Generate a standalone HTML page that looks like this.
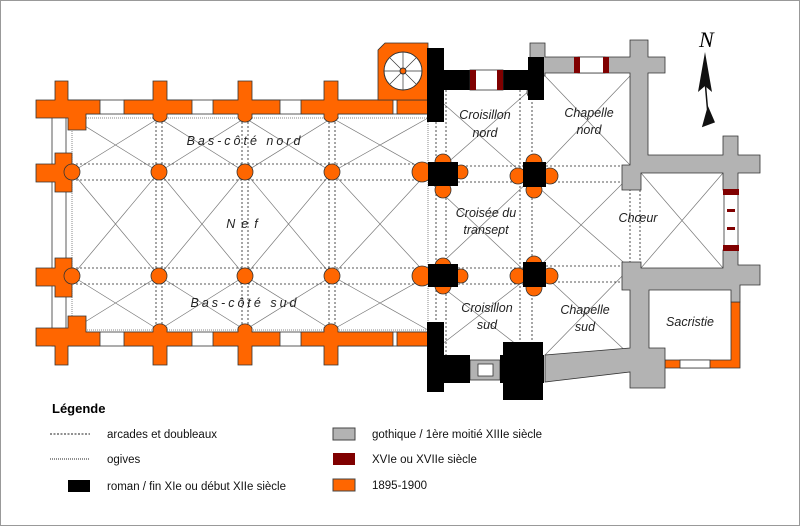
<!DOCTYPE html>
<html><head><meta charset="utf-8"><style>
html,body{margin:0;padding:0;background:#fff}
svg{display:block}
text{font-family:"Liberation Sans","DejaVu Sans",sans-serif}
.lab{font-style:italic;font-size:12.5px;fill:#222;text-anchor:middle}
.leg{font-size:11.5px;fill:#111}
</style></head><body>
<svg width="800" height="526" viewBox="0 0 800 526" xmlns="http://www.w3.org/2000/svg">
<rect x="0.5" y="0.5" width="799" height="525" fill="#fff" stroke="#999"/>
<rect x="72" y="118" width="356" height="212" fill="#fff" stroke="#888" stroke-dasharray="1,1"/>
<g stroke="#777" stroke-width="0.7" fill="none">
<path d="M72,118 L159,172 L245,118 L332,172 L428,118 M72,172 L159,118 L245,172 L332,118 L428,172"/>
<path d="M72,172 L159,276 L245,172 L332,276 L428,172 M72,276 L159,172 L245,276 L332,172 L428,276"/>
<path d="M72,276 L159,330 L245,276 L332,330 L428,276 M72,330 L159,276 L245,330 L332,276 L428,330"/>
<path d="M428,90 L530,180 M530,90 L428,180 M428,180 L530,276 M530,180 L428,276 M428,276 L530,355 M530,276 L428,355"/>
<path d="M545,76 L630,165 M630,76 L545,165 M530,180 L630,268 M630,176 L530,276 M545,276 L630,355 M630,268 L545,355 M641,173 L723,268 M723,173 L641,268"/>
</g>
<g stroke="#222" stroke-width="0.8" stroke-dasharray="2,2" fill="none">
<path d="M72,164 H428 M72,180 H428 M72,268 H428 M72,284 H428"/>
<path d="M156,118 V330 M162,118 V330 M242,118 V330 M248,118 V330 M329,118 V330 M335,118 V330"/>
<path d="M436,90 V355 M446,90 V355 M520,90 V355 M532,90 V355 M458,166 H523 M458,182 H523 M458,268 H523 M458,284 H523"/>
<path d="M546,166 H635 M546,182 H635 M546,266 H635 M546,282 H635 M630,165 V280 M640,170 V272"/>
</g>
<g fill="#fff" stroke="#333" stroke-width="0.8">
<rect x="60" y="100" width="368" height="14"/><rect x="60" y="332" width="368" height="14"/>
<rect x="52" y="110" width="14" height="236"/>
</g>
<g fill="#f60" stroke="#333" stroke-width="0.8">
<path d="M55,81 H68 V100 H100 V114 H86 V130 H68 V118 H36 V100 H55Z"/>
<path d="M153,81 H167 V100 H192 V114 H167 V118 A8,8 0 0 1 153,118 V114 H124 V100 H153Z"/>
<path d="M238,81 H252 V100 H280 V114 H252 V118 A8,8 0 0 1 238,118 V114 H213 V100 H238Z"/>
<path d="M324,81 H338 V100 H393 V114 H338 V118 A8,8 0 0 1 324,118 V114 H301 V100 H324Z"/>
<rect x="397" y="100" width="31" height="14"/>
<path d="M55,365 H68 V346 H100 V332 H86 V316 H68 V328 H36 V346 H55Z"/>
<path d="M153,365 H167 V346 H192 V332 H167 V328 A8,8 0 0 0 153,328 V332 H124 V346 H153Z"/>
<path d="M238,365 H252 V346 H280 V332 H252 V328 A8,8 0 0 0 238,328 V332 H213 V346 H238Z"/>
<path d="M324,365 H338 V346 H393 V332 H338 V328 A8,8 0 0 0 324,328 V332 H301 V346 H324Z"/>
<rect x="397" y="332" width="31" height="14"/>
<path d="M36,164 H55 V153 H72 V192 H55 V182 H36Z"/>
<path d="M36,268 H55 V258 H72 V297 H55 V286 H36Z"/>
<circle cx="72" cy="172" r="8"/><circle cx="72" cy="276" r="8"/>
<circle cx="159" cy="172" r="8"/><circle cx="245" cy="172" r="8"/><circle cx="332" cy="172" r="8"/>
<circle cx="159" cy="276" r="8"/><circle cx="245" cy="276" r="8"/><circle cx="332" cy="276" r="8"/>
<path d="M378,50 L385,43 H428 V100 H378Z"/>
<circle cx="422" cy="172" r="10"/><circle cx="443" cy="162" r="8"/><circle cx="443" cy="190" r="8"/><circle cx="461" cy="172" r="7"/>
<circle cx="422" cy="276" r="10"/><circle cx="443" cy="266" r="8"/><circle cx="443" cy="286" r="8"/><circle cx="461" cy="276" r="7"/>
<circle cx="534" cy="162" r="8"/><circle cx="534" cy="190" r="8"/><circle cx="518" cy="176" r="8"/><circle cx="550" cy="176" r="8"/>
<circle cx="534" cy="264" r="8"/><circle cx="534" cy="288" r="8"/><circle cx="518" cy="276" r="8"/><circle cx="550" cy="276" r="8"/>
<path d="M731,302 H740 V368 H665 V360 H731Z"/>
</g>
<circle cx="403" cy="71" r="19" fill="#fff" stroke="#333"/>
<g stroke="#333" stroke-width="0.7"><path d="M403,52 V90 M384,71 H422 M390,58 L416,84 M416,58 L390,84"/></g>
<circle cx="403" cy="71" r="3" fill="#f60" stroke="#333"/>
<g fill="#b3b3b3" stroke="#333" stroke-width="0.8">
<path d="M530,43 H545 V57 H630 V40 H648 V57 H665 V73 H648 V155 H723 V136 H738 V155 H760 V173 H738 V190 H723 V173 H641 V190 H622 V165 H630 V73 H545 V76 H530Z"/>
<path d="M622,262 H641 V268 H723 V250 H738 V265 H760 V285 H740 V302 H731 V290 H649 V348 H665 V388 H630 V372 L545,382 V355 L630,348 V290 H622Z"/>
<circle cx="534" cy="92" r="7"/><circle cx="534" cy="352" r="7"/>
<rect x="470" y="360" width="30" height="20"/>
</g>
<g fill="#000">
<rect x="427" y="48" width="17" height="74"/><rect x="444" y="70" width="100" height="20"/><rect x="528" y="57" width="16" height="43"/>
<rect x="428" y="162" width="30" height="24"/><rect x="523" y="162" width="23" height="25"/>
<rect x="428" y="264" width="30" height="23"/><rect x="523" y="262" width="23" height="25"/>
<rect x="427" y="322" width="17" height="70"/><rect x="444" y="355" width="26" height="28"/><rect x="500" y="355" width="44" height="28"/><rect x="503" y="342" width="40" height="58"/>
</g>
<g fill="#fff" stroke="#333" stroke-width="0.8">
<rect x="470" y="70" width="33" height="20"/><rect x="578" y="57" width="27" height="16"/>
<rect x="478" y="364" width="15" height="12"/><rect x="724" y="190" width="14" height="60"/>
<rect x="680" y="360" width="30" height="8"/>
</g>
<g fill="#800000"><rect x="470" y="70" width="6" height="20"/><rect x="497" y="70" width="6" height="20"/><rect x="574" y="57" width="6" height="16"/><rect x="603" y="57" width="6" height="16"/><rect x="723" y="189" width="16" height="6"/><rect x="723" y="245" width="16" height="6"/><rect x="727" y="209" width="8" height="3"/><rect x="727" y="227" width="8" height="3"/></g>
<text class="lab" x="245" y="145" style="letter-spacing:3px">Bas-côté nord</text>
<text class="lab" x="245" y="228" style="letter-spacing:6px">Nef</text>
<text class="lab" x="245" y="307" style="letter-spacing:3px">Bas-côté sud</text>
<text class="lab" x="485" y="119">Croisillon</text><text class="lab" x="485" y="137">nord</text>
<text class="lab" x="589" y="117">Chapelle</text><text class="lab" x="589" y="134">nord</text>
<text class="lab" x="486" y="217">Croisée du</text><text class="lab" x="486" y="234">transept</text>
<text class="lab" x="638" y="222">Chœur</text>
<text class="lab" x="487" y="312">Croisillon</text><text class="lab" x="487" y="329">sud</text>
<text class="lab" x="585" y="314">Chapelle</text><text class="lab" x="585" y="331">sud</text>
<text class="lab" x="690" y="326">Sacristie</text>
<text x="699" y="47" style="font-family:'Liberation Serif',serif;font-style:italic;font-size:22px">N</text>
<path d="M705,52 L698,92 L705,86 L712,92Z" fill="#111"/>
<path d="M705,80 L708,115 M708,108 L703,126 L714,122Z" stroke="#111" stroke-width="1.5" fill="#111"/>
<text x="52" y="413" style="font-weight:bold;font-size:13px">Légende</text>
<line x1="50" y1="434" x2="90" y2="434" stroke="#222" stroke-dasharray="2,1.5"/>
<line x1="50" y1="459" x2="90" y2="459" stroke="#222" stroke-dasharray="1,1"/>
<rect x="68" y="480" width="22" height="12" fill="#000"/>
<text class="leg" x="107" y="438">arcades et doubleaux</text>
<text class="leg" x="107" y="463">ogives</text>
<text class="leg" x="107" y="490">roman / fin XIe ou début XIIe siècle</text>
<rect x="333" y="428" width="22" height="12" fill="#b3b3b3" stroke="#444"/>
<rect x="333" y="453" width="22" height="12" fill="#800000"/>
<rect x="333" y="479" width="22" height="12" fill="#f60" stroke="#444"/>
<text class="leg" x="372" y="438">gothique / 1ère moitié XIIIe siècle</text>
<text class="leg" x="372" y="463">XVIe ou XVIIe siècle</text>
<text class="leg" x="372" y="489">1895-1900</text>
</svg>
</body></html>
